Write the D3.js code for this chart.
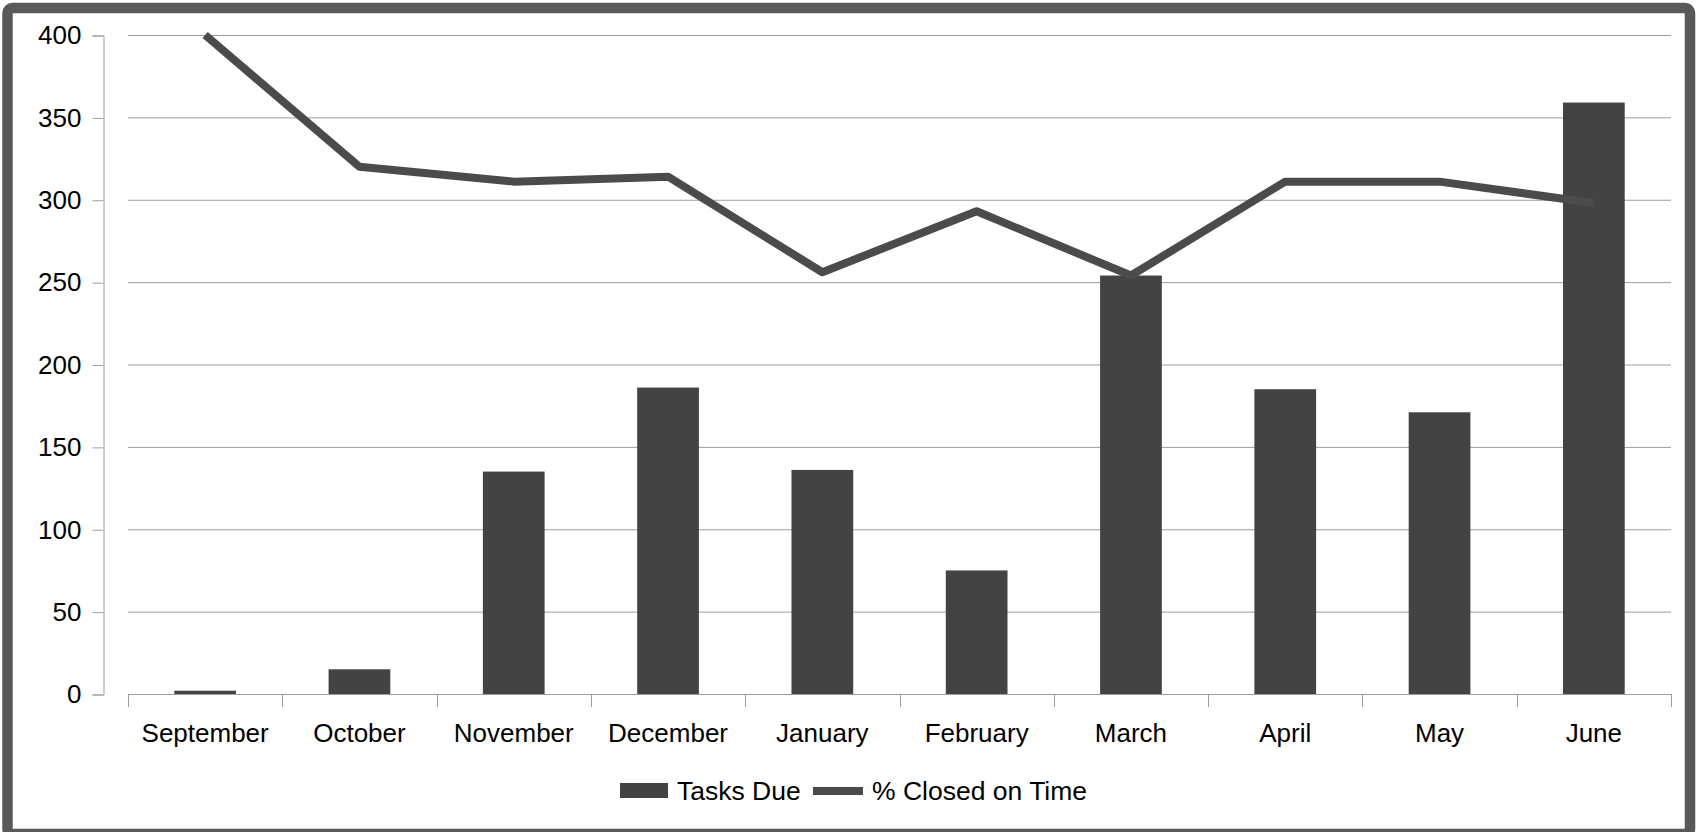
<!DOCTYPE html>
<html>
<head>
<meta charset="utf-8">
<script src="https://cdn.jsdelivr.net/npm/d3@7"></script>
<style>
  html, body { margin: 0; padding: 0; background: #fff; }
  svg { display: block; font-family: 'Liberation Sans', Arial, sans-serif; }
</style>
</head>
<body>
<div id="chart"></div>
<script>
'use strict';

// data
var months     = ['September', 'October', 'November', 'December', 'January',
                  'February', 'March', 'April', 'May', 'June'];
var tasksDue   = [2, 15, 135, 186, 136, 75, 254, 185, 171, 359];
var closedPct  = [400, 320, 311, 314, 256, 293, 254, 311, 311, 298];
var yTicks     = [0, 50, 100, 150, 200, 250, 300, 350, 400];
var seriesNames = ['Tasks Due', '% Closed on Time'];

var opts = {
    width   :  1700
  , height  :  832
  , plot    :  { left: 128, right: 1671, top: 35, bottom: 694 }
  , yAxisX  :  103.5
  , barFill :  '#434343'
  , line    :  { stroke: '#4b4b4b', width: 8 }
  , grid    :  '#9e9e9e'
  , frame   :  { stroke: '#595959', width: 10.5 }
  , font    :  '26px'
  , legendFont : '26.5px'
}

var svg = d3.select('#chart')
  .append('svg')
  .attr('width', opts.width)
  .attr('height', opts.height)

// outer frame
svg.append('rect')
  .attr('x', 7.5)
  .attr('y', 8)
  .attr('width', 1682.5)
  .attr('height', 826)
  .attr('rx', 5)
  .style('fill', '#fff')
  .style('stroke', opts.frame.stroke)
  .style('stroke-width', opts.frame.width)

var x = d3.scaleBand()
  .domain(months)
  .range([opts.plot.left, opts.plot.right])
  .paddingInner(0.6)
  .paddingOuter(0.3)

var y = d3.scaleLinear()
  .domain([0, 400])
  .range([opts.plot.bottom, opts.plot.top])

// horizontal grid lines
svg.append('g')
  .selectAll('line')
  .data(yTicks.filter(function (d) { return d > 0; }))
  .join('line')
  .attr('x1', opts.plot.left)
  .attr('x2', opts.plot.right)
  .attr('y1', function (d) { return y(d) + 0.5; })
  .attr('y2', function (d) { return y(d) + 0.5; })
  .style('stroke', opts.grid)
  .style('stroke-width', 1)

// y axis, detached from the plot like the original
var yAxis = svg.append('g')
  .attr('transform', 'translate(' + opts.yAxisX + ',0.5)')
  .call(d3.axisLeft(y).tickValues(yTicks).tickSize(11).tickPadding(11))

yAxis.selectAll('path, line').style('stroke', opts.grid)
yAxis.selectAll('text')
  .style('font-size', opts.font)
  .style('font-family', "'Liberation Sans', Arial, sans-serif")
  .style('fill', '#000')

// x axis: ticks on band edges, labels at band centres
var edges = months.map(function (m) { return x(m) - x.step() * x.paddingInner() / 2; })
edges.push(opts.plot.right)

var xAxis = svg.append('g')

xAxis.append('line')
  .attr('x1', opts.plot.left)
  .attr('x2', opts.plot.right)
  .attr('y1', opts.plot.bottom + 0.5)
  .attr('y2', opts.plot.bottom + 0.5)
  .style('stroke', opts.grid)

xAxis.selectAll('line.tick')
  .data(edges)
  .join('line')
  .attr('class', 'tick')
  .attr('x1', function (d) { return Math.round(d) + 0.5; })
  .attr('x2', function (d) { return Math.round(d) + 0.5; })
  .attr('y1', opts.plot.bottom)
  .attr('y2', opts.plot.bottom + 13)
  .style('stroke', opts.grid)

xAxis.selectAll('text')
  .data(months)
  .join('text')
  .attr('x', function (d) { return x(d) + x.bandwidth() / 2; })
  .attr('y', 742)
  .attr('text-anchor', 'middle')
  .style('font-size', opts.font)
  .style('fill', '#000')
  .text(function (d) { return d; })

// bars
svg.append('g')
  .selectAll('rect')
  .data(tasksDue)
  .join('rect')
  .attr('x', function (d, i) { return x(months[i]); })
  .attr('y', function (d) { return y(d); })
  .attr('width', x.bandwidth())
  .attr('height', function (d) { return y(0) - y(d); })
  .style('fill', opts.barFill)

// line
var line = d3.line()
  .x(function (d, i) { return x(months[i]) + x.bandwidth() / 2; })
  .y(function (d) { return y(d); })

svg.append('path')
  .datum(closedPct)
  .attr('d', line)
  .style('fill', 'none')
  .style('stroke', opts.line.stroke)
  .style('stroke-width', opts.line.width)
  .style('stroke-linejoin', 'round')

// legend
var legend = svg.append('g')

legend.append('rect')
  .attr('x', 620)
  .attr('y', 783)
  .attr('width', 48)
  .attr('height', 15)
  .style('fill', opts.barFill)

legend.append('text')
  .attr('x', 677)
  .attr('y', 800)
  .style('font-size', opts.legendFont)
  .text(seriesNames[0])

legend.append('line')
  .attr('x1', 813)
  .attr('x2', 863)
  .attr('y1', 791)
  .attr('y2', 791)
  .style('stroke', opts.line.stroke)
  .style('stroke-width', opts.line.width)

legend.append('text')
  .attr('x', 872)
  .attr('y', 800)
  .style('font-size', opts.legendFont)
  .text(seriesNames[1])
</script>
</body>
</html>
